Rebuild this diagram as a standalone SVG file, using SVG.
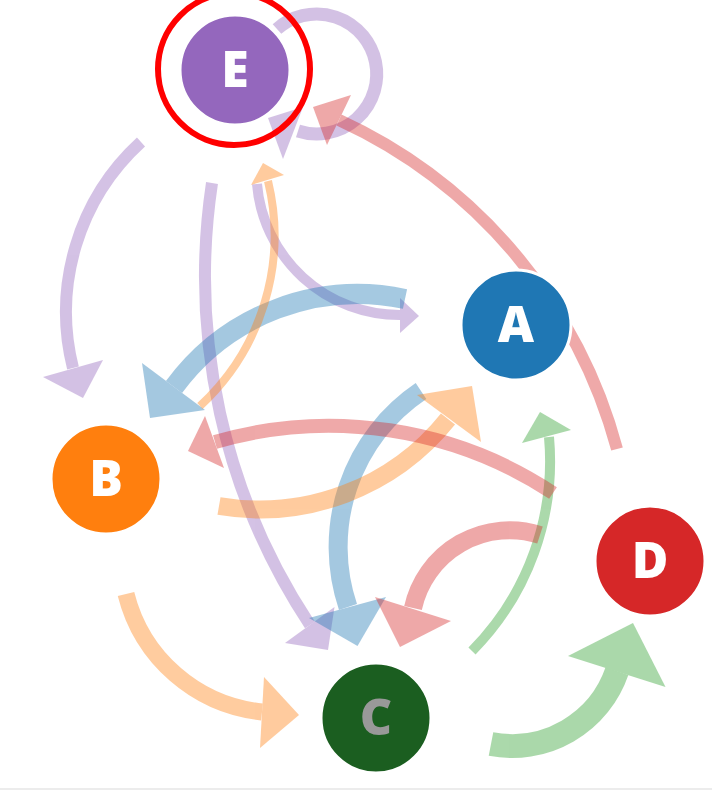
<svg xmlns="http://www.w3.org/2000/svg" width="712" height="790" viewBox="0 0 712 790">
<style>
.edge { opacity: 0.4; }
.edge path { fill: none; stroke-linecap: butt; }
.pu path { stroke: #9467bd; } .pu polygon { fill: #9467bd; }
.bl path { stroke: #1f77b4; } .bl polygon { fill: #1f77b4; }
.or path { stroke: #ff7f0e; } .or polygon { fill: #ff7f0e; }
.gr path { stroke: #2ca02c; } .gr polygon { fill: #2ca02c; }
.rd path { stroke: #d62728; } .rd polygon { fill: #d62728; }
.node circle { stroke: #ffffff; stroke-width: 3; }
.node text { font-family: "Open Sans", "DejaVu Sans", sans-serif; font-weight: 800; font-size: 50px; text-anchor: middle; fill: #ffffff; }
</style>
<rect x="0" y="0" width="712" height="790" fill="#ffffff"/>
<g id="connectors">
  <g id="e-E-E" class="edge pu">
    <path d="M 277 29 A 60 60 0 1 1 298 131" stroke-width="13"/>
    <polygon points="268,118 303,107 283,159"/>
  </g>
  <g id="e-E-B" class="edge pu">
    <path d="M 141 142 A 230 230 0 0 0 73 368" stroke-width="12"/>
    <polygon points="43,377 103,360 83,398"/>
  </g>
  <g id="e-E-C" class="edge pu">
    <path d="M 212 183 A 631 631 0 0 0 310 625" stroke-width="12"/>
    <polygon points="285,643 334.5,607 328,650"/>
  </g>
  <g id="e-E-A" class="edge pu">
    <path d="M 257 184 A 143 143 0 0 0 400 315" stroke-width="10"/>
    <polygon points="400,298 419,316 400,333"/>
  </g>
  <g id="e-A-B" class="edge bl">
    <path d="M 405 299 A 228 228 0 0 0 174 387" stroke-width="20"/>
    <polygon points="142,363 150,418 205,410"/>
  </g>
  <g id="e-A-C" class="edge bl">
    <path d="M 421 391 A 188 188 0 0 0 348 607" stroke-width="19"/>
    <polygon points="309,618 386,597 357.5,646"/>
  </g>
  <g id="e-B-A" class="edge or">
    <path d="M 219 506 A 241 241 0 0 0 448 419" stroke-width="18"/>
    <polygon points="417,395 472,386 481,442"/>
  </g>
  <g id="e-B-C" class="edge or">
    <path d="M 126 594 A 157 157 0 0 0 262 712" stroke-width="17"/>
    <polygon points="264,677 299,715 260,748"/>
  </g>
  <g id="e-B-E" class="edge or">
    <path d="M 200 406 A 232 232 0 0 0 268 181" stroke-width="8"/>
    <polygon points="251,185 263,163 284,175"/>
  </g>
  <g id="e-C-A" class="edge gr">
    <path d="M 472 651 A 270 270 0 0 0 549 437" stroke-width="10"/>
    <polygon points="522,443 540,412 571,430"/>
  </g>
  <g id="e-C-D" class="edge gr">
    <path d="M 491 744 A 111 111 0 0 0 617 671" stroke-width="24"/>
    <polygon points="568,656 633,623 665.5,687"/>
  </g>
  <g id="e-D-E" class="edge rd">
    <path d="M 617 449 A 507 507 0 0 0 339 120" stroke-width="12"/>
    <polygon points="313,107 351,95 327,145"/>
  </g>
  <g id="e-D-B" class="edge rd">
    <path d="M 553 493 A 407 407 0 0 0 215 442" stroke-width="14"/>
    <polygon points="205,416 188,451 224,468"/>
  </g>
  <g id="e-D-C" class="edge rd">
    <path d="M 540 535 A 99 99 0 0 0 413 608" stroke-width="18"/>
    <polygon points="375,597 451,621 400,647"/>
  </g>
</g>
<g id="node-E" class="node">
  <circle cx="235" cy="70" r="55" fill="#9467bd"/>
  <text x="235" y="87">E</text>
</g>
<g id="node-A" class="node">
  <circle cx="516" cy="325" r="55" fill="#1f77b4"/>
  <text x="516" y="342">A</text>
</g>
<g id="node-B" class="node">
  <circle cx="106" cy="479" r="55" fill="#ff7f0e"/>
  <text x="106" y="496">B</text>
</g>
<g id="node-C" class="node">
  <circle cx="376" cy="718" r="55" fill="#1b5e20"/>
  <text x="376" y="735" style="fill:#999999">C</text>
</g>
<g id="node-D" class="node">
  <circle cx="650" cy="561" r="55" fill="#d62728"/>
  <text x="650" y="578">D</text>
</g>
<g id="highlight">
  <circle cx="234" cy="69" r="76" fill="none" stroke="#ff0000" stroke-width="6"/>
</g>
<rect x="0" y="788" width="712" height="2" fill="#ececec"/>
</svg>
